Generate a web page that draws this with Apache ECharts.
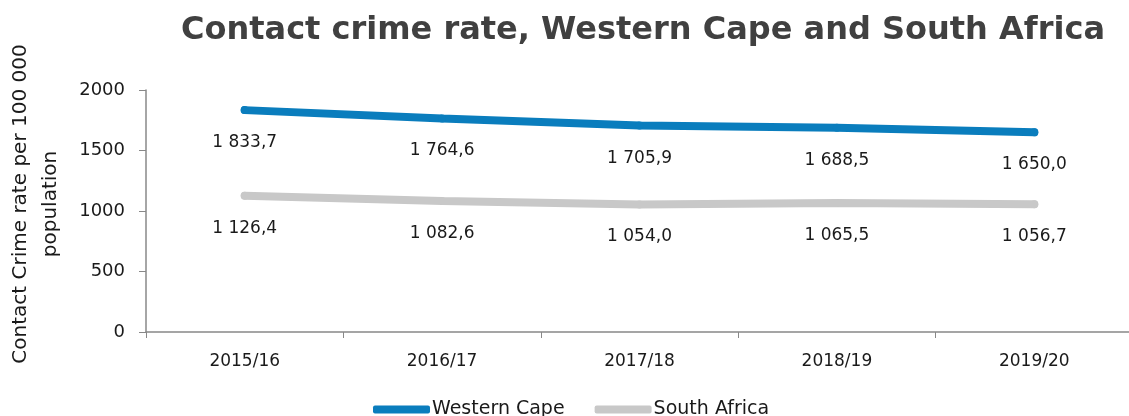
<!DOCTYPE html>
<html>
<head>
<meta charset="utf-8">
<script src="https://cdn.jsdelivr.net/npm/echarts@6/dist/echarts.min.js"></script>
<style>
  html, body { margin: 0; padding: 0; background: #fff; }
  #chart { width: 1129px; height: 416px; }
</style>
</head>
<body>
<div id="chart"></div>
<script>
var years = ['2015/16', '2016/17', '2017/18', '2018/19', '2019/20'];
var westernCape = [1833.7, 1764.6, 1705.9, 1688.5, 1650.0];
var southAfrica = [1126.4, 1082.6, 1054.0, 1065.5, 1056.7];

// 1 833,7 style: space thousands, comma decimal
function fmt(v) {
  var s = v.toFixed(1).split('.');
  var whole = s[0].replace(/\B(?=(\d{3})+(?!\d))/g, ' ');
  return whole + ',' + s[1];
}

var font = 'DejaVu Sans';
var myChart = echarts.init(document.getElementById('chart'));

function seriesLabel() {
  return {
    show: true,
    position: 'bottom',
    distance: 20,
    formatter: function (p) { return fmt(p.value); },
    fontFamily: font,
    fontSize: 17,
    color: '#1a1a1a'
  };
}

var option = {
  animation: false,
  textStyle: { fontFamily: font },
  title: {
    text: 'Contact crime rate, Western Cape and South Africa',
    left: 638,
    textAlign: 'center',
    top: 10,
    textStyle: { fontFamily: font, fontSize: 32, fontWeight: 'bold', color: '#404040' }
  },
  grid: { left: 146, right: -4, top: 90, bottom: 84, containLabel: false, outerBoundsMode: 'none' },
  legend: {
    bottom: -8,
    left: 368,
    itemWidth: 57,
    itemHeight: 8,
    itemGap: 30,
    icon: 'roundRect',
    textStyle: { fontFamily: font, fontSize: 19, color: '#1a1a1a', padding: [0, 0, 0, -3] },
    data: ['Western Cape', 'South Africa']
  },
  xAxis: {
    type: 'category',
    data: years,
    boundaryGap: true,
    axisLine: { lineStyle: { color: '#888', width: 1.5 } },
    axisTick: { show: true, length: 6, lineStyle: { color: '#888' } },
    axisLabel: { fontFamily: font, fontSize: 17, color: '#1a1a1a', margin: 21 }
  },
  yAxis: {
    type: 'value',
    min: 0,
    max: 2000,
    interval: 500,
    name: 'Contact Crime rate per 100 000\npopulation',
    nameLocation: 'middle',
    nameGap: 80,
    nameTextStyle: { fontFamily: font, fontSize: 20, color: '#1a1a1a', lineHeight: 30, padding: [0, 0, 0, 14] },
    axisLine: { show: true, lineStyle: { color: '#888', width: 1.5 } },
    axisTick: { show: true, length: 7, lineStyle: { color: '#888' } },
    splitLine: { show: false },
    axisLabel: {
      fontFamily: font, fontSize: 18, color: '#1a1a1a', margin: 21,
      formatter: function (v) { return String(v); }
    }
  },
  series: [
    {
      name: 'Western Cape',
      type: 'line',
      data: westernCape,
      symbol: 'circle',
      symbolSize: 8,
      showSymbol: true,
      itemStyle: { color: '#0A7DBD' },
      lineStyle: { color: '#0A7DBD', width: 8, cap: 'round' },
      label: seriesLabel()
    },
    {
      name: 'South Africa',
      type: 'line',
      data: southAfrica,
      symbol: 'circle',
      symbolSize: 8,
      showSymbol: true,
      itemStyle: { color: '#C8C8C8' },
      lineStyle: { color: '#C8C8C8', width: 8, cap: 'round' },
      label: seriesLabel()
    }
  ]
};

myChart.setOption(option);
</script>
</body>
</html>
